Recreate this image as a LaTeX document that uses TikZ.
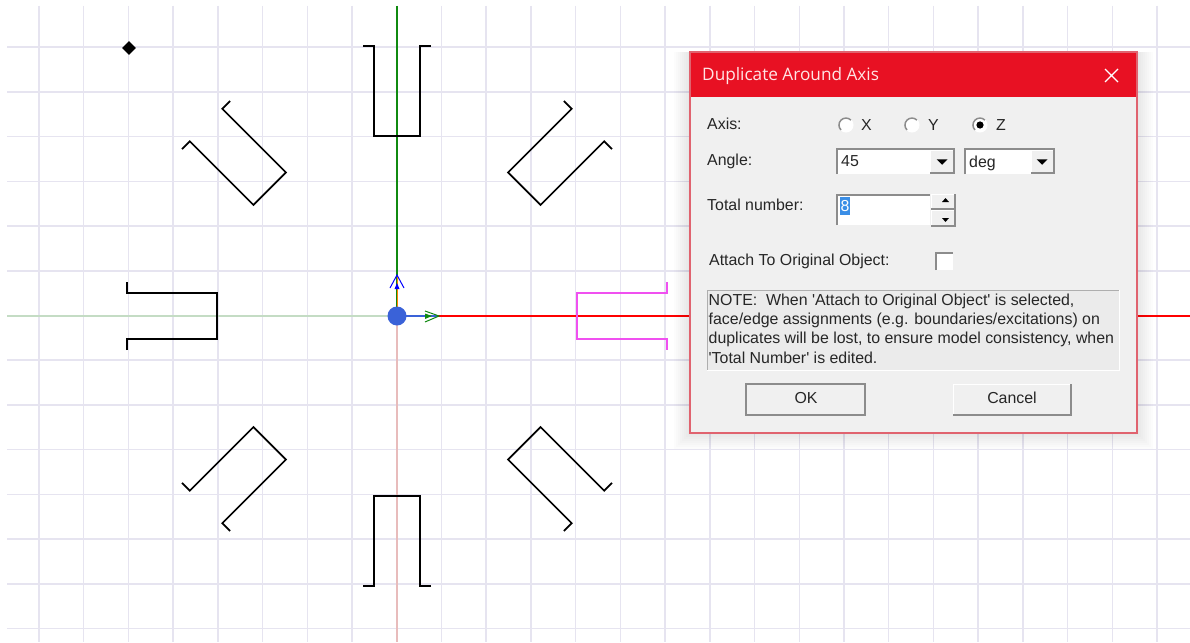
\documentclass[tikz,border=0pt]{standalone}
\usepackage{fontspec}
\usetikzlibrary{shapes.geometric}
\setmainfont{Liberation Sans}
\newfontfamily\titlefont{Open Sans}
\newfontfamily\quotefont{Liberation Sans}
\definecolor{gridc}{HTML}{E6E4F0}
\definecolor{dlgbg}{HTML}{F0F0F0}
\definecolor{titlered}{HTML}{E81123}
\definecolor{frame}{HTML}{E0636F}
\definecolor{sunk}{HTML}{8C8C8C}
\definecolor{mag}{HTML}{F050F0}
\definecolor{axgreen}{HTML}{108A10}
\definecolor{axblue}{HTML}{3A62D8}
\definecolor{faintgreen}{HTML}{C4DCC4}
\definecolor{faintred}{HTML}{E8BCBC}
\definecolor{selblue}{HTML}{3A8EE6}
\newcommand{\sq}{{\quotefont\symbol{39}}}
\tikzset{
  x=1pt,y=-1pt,
  gridline/.style={gridc,line width=1.5pt},
  ushape/.style={black,line width=1.7pt,line join=miter},
  lbl/.style={inner sep=0pt,anchor=base west,font=\fontsize{15.9}{18}\selectfont,text=black!85},
  radio/.style={circle,minimum size=14pt,inner sep=0pt,fill=white,draw=white,line width=1pt},
  radioedge/.style={sunk,line width=1.5pt},
}
\newcommand{\Ushape}[1]{\draw[ushape,rotate around={#1:(397,316)}] (667,282) -- (667,293) -- (577,293) -- (577,339) -- (667,339) -- (667,350);}
\newcommand{\sunkbox}[4]{%
  \fill[white] (#1,#2) rectangle (#3,#4);
  \draw[sunk,line width=1.6pt] (#1,#4) -- (#1,#2) -- (#3,#2);
}
\newcommand{\raisedbox}[5][sunk]{%
  \fill[dlgbg] (#2,#3) rectangle (#4,#5);
  \draw[white,line width=1pt] (#2,#5) -- (#2,#3) -- (#4,#3);
  \draw[#1,line width=1.8pt] (#2,#5) -- (#4,#5) -- (#4,#3);
}
\newcommand{\downtri}[3]{\fill (#1-#3,#2-#3/2) -- (#1+#3,#2-#3/2) -- (#1,#2+#3/2) -- cycle;}
\begin{document}
\begin{tikzpicture}
\useasboundingbox (0,0) rectangle (1190,642);
\fill[white] (0,0) rectangle (1190,642);
% grid
\foreach \i in {0,...,25}{
  \draw[gridline] ({39+44.72*\i},6) -- ({39+44.72*\i},642);
}
\foreach \j in {0,...,13}{
  \draw[gridline] (7,{47.2+44.72*\j}) -- (1190,{47.2+44.72*\j});
}
% axes
\draw[faintgreen,line width=1.3pt] (7,316) -- (397,316);
\draw[faintred,line width=1.3pt] (397,316) -- (397,642);
\draw[axgreen,line width=2.2pt] (397,6) -- (397,316);
\draw[red,line width=2.2pt] (397,316) -- (1190,316);
\draw[orange,line width=1pt] (397,275) -- (397,316);
\draw[axblue,line width=1.8pt] (397,316) -- (438,316);
% object copies
\foreach \a in {45,90,135,180,225,270,315}{\Ushape{\a}}
\draw[mag,line width=1.2pt] (667,282) -- (667,293) -- (577,293) -- (577,339) -- (667,339) -- (667,350);
% triad
\fill[axblue] (397,316) circle (9.5);
\draw[blue,line width=1pt] (390,288) -- (397,275) -- (404,288);
\fill[blue] (394.5,289) -- (399.5,289) -- (397,283) -- cycle;
\draw[axgreen,line width=1pt] (425,311) -- (439,316) -- (425,322);
\fill[axgreen] (425,313.5) -- (425,319) -- (432,316) -- cycle;
\node[diamond,fill=black,inner sep=0pt,minimum size=14pt,shape aspect=1] (mark) at (129,48) {};
% soft shadow
\foreach \d in {2,4,...,16}{
  \fill[black,opacity=.012] (690-\d,52) rectangle (1137+\d,433+\d);
}
% dialog
\fill[dlgbg] (690,52) rectangle (1137,433);
\fill[titlered] (690,52) rectangle (1137,97);
\draw[frame,line width=1.2pt] (690,52) rectangle (1137,433);
\node[inner sep=0pt,anchor=base west,text=white!90!red,font=\titlefont\fontsize{17.2}{20}\selectfont] (title) at (702,81) {Duplicate Around Axis};
\draw[white,line width=1.1pt] (1105,69) -- (1118,82) (1118,69) -- (1105,82);
% axis row
\node[lbl] (axislbl) at (707,129) {Axis:};
\node[radio] (rx) at (846,125) {};
\node[lbl] (xl) at (861,130) {X};
\node[radio] (ry) at (912,125) {};
\node[lbl] (yl) at (928,130) {Y};
\node[radio] (rz) at (980,125) {};
\node[lbl] (zl) at (996,130) {Z};
\foreach \cx in {846,912,980}{
  \draw[radioedge] (\cx+4.9,125-4.9) arc[start angle=45,end angle=225,radius=7pt];
}
\fill[black] (rz.center) circle (3.6);
% angle row
\node[lbl] (anglelbl) at (707,165) {Angle:};
\sunkbox{837}{149}{955}{174}
\raisedbox{930}{150}{954}{173}
\node[lbl] (angleval) at (841,166) {45};
\downtri{942}{162}{5.5}
\sunkbox{965}{149}{1055}{174}
\raisedbox{1031}{150}{1054}{173}
\node[lbl] (unit) at (969,167) {deg};
\downtri{1042}{162}{5.5}
% total number
\node[lbl] (totallbl) at (707,210) {Total number:};
\sunkbox{837}{195}{930}{225}
\fill[selblue] (840,197) rectangle (850,215);
\node[lbl,text=white] (totalval) at (840.5,211) {8};
\raisedbox{931}{194}{955}{209}
\raisedbox{931}{210}{955}{226}
\fill[black] (942,202) -- (949,202) -- (945.5,198) -- cycle;
\fill[black] (942,218) -- (949,218) -- (945.5,222) -- cycle;
% attach
\node[lbl] (attachlbl) at (709,265) {Attach To Original Object:};
\sunkbox{936}{253}{953}{270}
% note
\fill[dlgbg!98!black] (707,290) rectangle (1119,370);
\draw[sunk!70!white,line width=.8pt] (707,370) -- (707,290) -- (1119,290);
\draw[white,line width=.8pt] (707,370) -- (1119,370) -- (1119,290);
\node[inner sep=0pt,anchor=north west,align=left,text=black!85,font=\fontsize{15.9}{19.1}\selectfont] (note) at (708.5,294) {NOTE:\ \ When \sq Attach to Original Object\sq\ is selected,\\face/edge assignments (e.g. boundaries/excitations) on\\duplicates will be lost, to ensure model consistency, when\\\sq Total Number\sq\ is edited.};
% buttons
\raisedbox{746}{384}{865}{415}
\draw[sunk,line width=1.4pt] (746,384) rectangle (865,415);
\node[lbl,anchor=center] (ok) at (806,398) {OK};
\raisedbox{953}{384}{1071}{415}
\node[lbl,anchor=center] (cancel) at (1012,398) {Cancel};
\end{tikzpicture}
\end{document}
